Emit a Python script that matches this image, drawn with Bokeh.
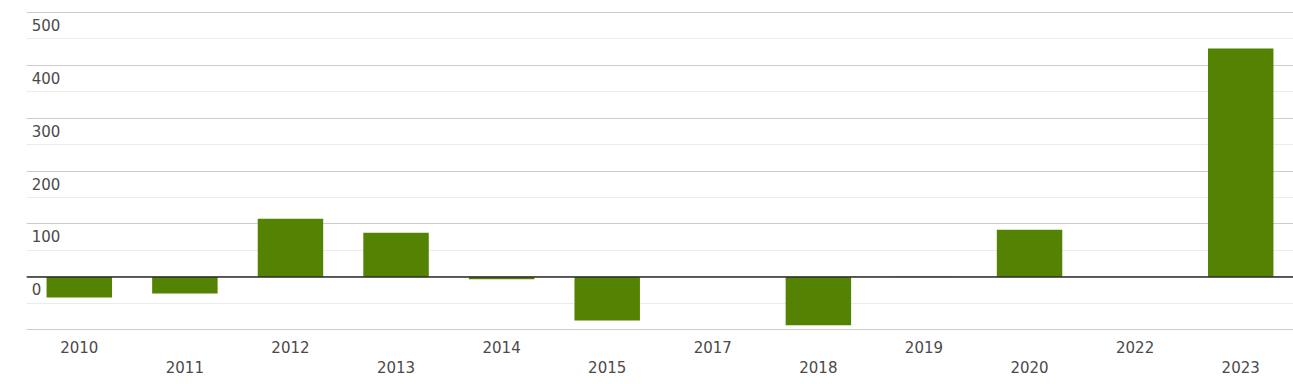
from bokeh.plotting import figure
from bokeh.models import SingleIntervalTicker, LinearAxis, Span, ColumnDataSource, Range1d, FixedTicker
from bokeh.core.properties import value
from bokeh.embed import file_html
from bokeh.resources import INLINE

years = ["2010", "2011", "2012", "2013", "2014", "2015", "2017", "2018", "2019", "2020", "2022", "2023"]
values = [-38.5, -31, 110, 83.5, -4.5, -82, 0, -91, 0.6, 89, 0, 431]
y_ticks = [0, 100, 200, 300, 400, 500]

BAR = "#548203"
TXT = "#4a4a4a"
FONT = "DejaVu Sans"

pos = [i + 0.5 for i in range(len(years))]

p = figure(x_range=Range1d(0, len(years)), y_range=(-101, 501),
           frame_width=1267, frame_height=319, output_backend="svg",
           toolbar_location=None, min_border_left=26, min_border_right=0,
           min_border_top=11, min_border_bottom=0)
p.outline_line_color = None
p.background_fill_color = "white"
p.border_fill_color = "white"

src = ColumnDataSource(dict(x=pos, top=values))
p.vbar(x="x", top="top", bottom=0, width=0.62, source=src, fill_color=BAR, line_color=None)

p.add_layout(Span(location=0, dimension="width", line_color="#2b2b2b", line_width=1.5))

# y axis hidden, grid kept
p.yaxis.visible = False
p.ygrid.ticker = SingleIntervalTicker(interval=100, num_minor_ticks=2)
p.ygrid.grid_line_color = "#cccccc"
p.ygrid.grid_line_width = 1
p.ygrid.minor_grid_line_color = "#ebebeb"
p.ygrid.minor_grid_line_width = 1
p.xgrid.visible = False

# y labels inside plot
lab_src = ColumnDataSource(dict(x=[0.05] * len(y_ticks), y=y_ticks,
                                t=[str(v) for v in y_ticks]))
p.text(x="x", y="y", text="t", source=lab_src, text_font=value(FONT), text_font_size="15px",
       text_color=TXT, text_baseline="middle", text_align="left", y_offset=12.5)

# x axis: two staggered rows
p.xaxis.visible = False
rows = [(pos[0::2], years[0::2], 10), (pos[1::2], years[1::2], 5)]
for ticks, labels, standoff in rows:
    ax = LinearAxis(ticker=FixedTicker(ticks=ticks),
                    major_label_overrides={t: l for t, l in zip(ticks, labels)})
    ax.axis_line_color = None
    ax.major_tick_line_color = None
    ax.minor_tick_line_color = None
    ax.major_tick_out = 0
    ax.major_tick_in = 0
    ax.major_label_standoff = standoff
    ax.major_label_text_font = FONT
    ax.major_label_text_font_size = "15px"
    ax.major_label_text_color = TXT
    p.add_layout(ax, "below")

open("out.html", "w").write(file_html(p, INLINE))
